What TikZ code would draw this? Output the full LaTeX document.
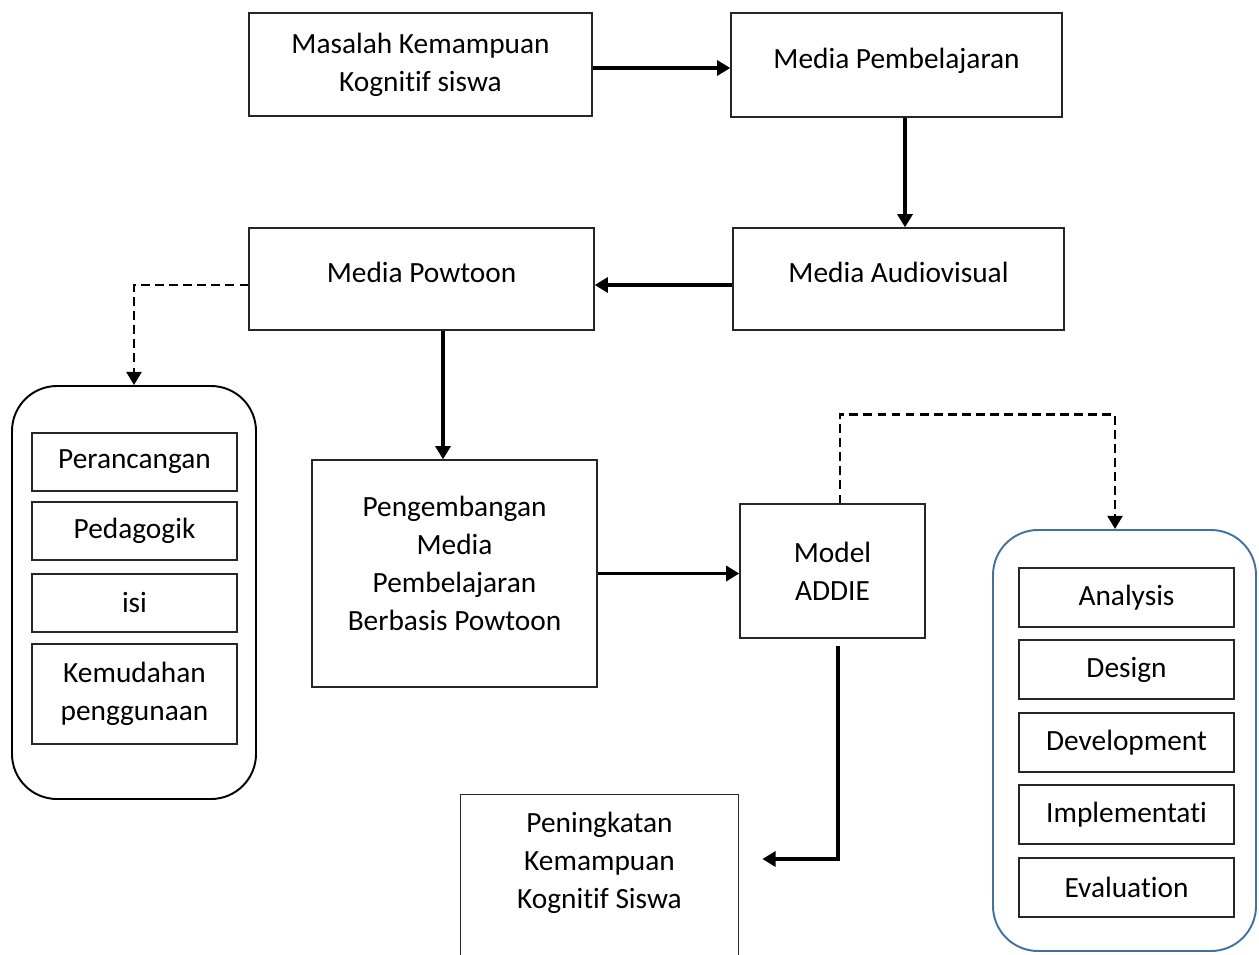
\documentclass[tikz,border=0pt]{standalone}
\usepackage{fontspec}
\setmainfont{Carlito}[Ligatures=NoCommon]
\usetikzlibrary{arrows.meta, positioning}

\definecolor{bingkaibiru}{RGB}{65,113,156}

\begin{document}
\begin{tikzpicture}[
    >={Triangle[length=7.5pt, width=8.5pt]},
    font=\fontsize{16.7}{21.5}\selectfont,
    block/.style={
      draw=black!85, line width=0.8pt, rectangle, align=center
    },
    item/.style={block, minimum height=1.18cm},
    wadah/.style={draw, rounded corners=0.9cm, line width=1.1pt},
    panah/.style={->, line width=1.9pt},
    putus/.style={->, line width=1.5pt, dash pattern=on 5pt off 3pt}
]
    \useasboundingbox (0,0) rectangle (25.18,-19.08);

    % Alur utama
    \node[block, minimum width=6.86cm, minimum height=2.06cm] (masalah) at (8.41,-1.29) {Masalah Kemampuan\\Kognitif siswa};
    \node[block, minimum width=6.62cm, minimum height=2.08cm,
      label={[yshift=0.09cm]center:Media Pembelajaran}] (media) at (17.93,-1.30) {};
    \node[block, minimum width=6.62cm, minimum height=2.04cm,
      label={[yshift=0.13cm]center:Media Audiovisual}] (audio) at (17.97,-5.58) {};
    \node[block, minimum width=6.90cm, minimum height=2.04cm,
      label={[yshift=0.13cm]center:Media Powtoon}] (powtoon) at (8.43,-5.58) {};
    \node[block, minimum width=5.70cm, minimum height=4.54cm,
      label={[align=center, yshift=0.2cm]center:Pengembangan\\Media\\Pembelajaran\\Berbasis Powtoon}] (kembang) at (9.09,-11.47) {};
    \node[block, minimum width=3.70cm, minimum height=2.68cm] (addie) at (16.65,-11.42) {Model\\ADDIE};
    \node[align=center, minimum width=5.54cm, minimum height=2.72cm] (hasil) at (11.99,-17.26) {Peningkatan\\Kemampuan\\Kognitif Siswa};
    \draw[black!85, line width=0.8pt] ([yshift=-2cm]hasil.south west) -- (hasil.north west)
      -- (hasil.north east) -- ([yshift=-2cm]hasil.south east);

    % Kriteria media
    \node[wadah, minimum width=4.88cm, minimum height=8.26cm] (kriteria) at (2.68,-11.85) {};
    \node[item, minimum width=4.10cm, minimum height=1.16cm] (rancang) at (2.69,-9.24) {Perancangan};
    \node[item, minimum width=4.10cm, minimum height=1.16cm] (pedagogik) at (2.69,-10.62) {Pedagogik};
    \node[item, minimum width=4.10cm, minimum height=1.16cm] (isi) at (2.69,-12.06) {isi};
    \node[item, minimum width=4.10cm, minimum height=2.00cm] (mudah) at (2.69,-13.88) {Kemudahan\\penggunaan};

    % Tahapan ADDIE
    \node[wadah, draw=bingkaibiru, minimum width=5.26cm, minimum height=8.42cm] (tahapan) at (22.49,-14.81) {};
    \node[item, minimum width=4.30cm] (analysis) at (22.53,-11.95) {Analysis};
    \node[item, minimum width=4.30cm] (design) at (22.53,-13.39) {Design};
    \node[item, minimum width=4.30cm] (develop) at (22.53,-14.85) {Development};
    \node[item, minimum width=4.30cm] (implement) at (22.53,-16.29) {Implementati};
    \node[item, minimum width=4.30cm] (evaluasi) at (22.53,-17.75) {Evaluation};

    % Panah
    \draw[panah] ([yshift=-0.07cm]masalah.east) -- ([yshift=-0.07cm]masalah.east -| media.west);
    \draw[panah] ([xshift=0.17cm]media.south) -- ([xshift=0.17cm]media.south |- audio.north);
    \draw[panah] ([yshift=-0.12cm]audio.west) -- ([yshift=-0.12cm]audio.west -| powtoon.east);
    \draw[putus] ([yshift=-0.12cm]powtoon.west) -| (kriteria.north);
    \draw[panah] ([xshift=0.43cm]powtoon.south) -- ([xshift=0.43cm]powtoon.south |- kembang.north);
    \draw[panah] (kembang.east) -- (kembang.east -| addie.west);
    \draw[putus] ([xshift=0.15cm]addie.north) -- ++(0,1.78) -| ([xshift=-0.19cm]tahapan.north);
    \draw[panah] ([xshift=0.11cm,yshift=-0.14cm]addie.south) |- ([xshift=0.48cm,yshift=0.08cm]hasil.east);
\end{tikzpicture}
\end{document}
